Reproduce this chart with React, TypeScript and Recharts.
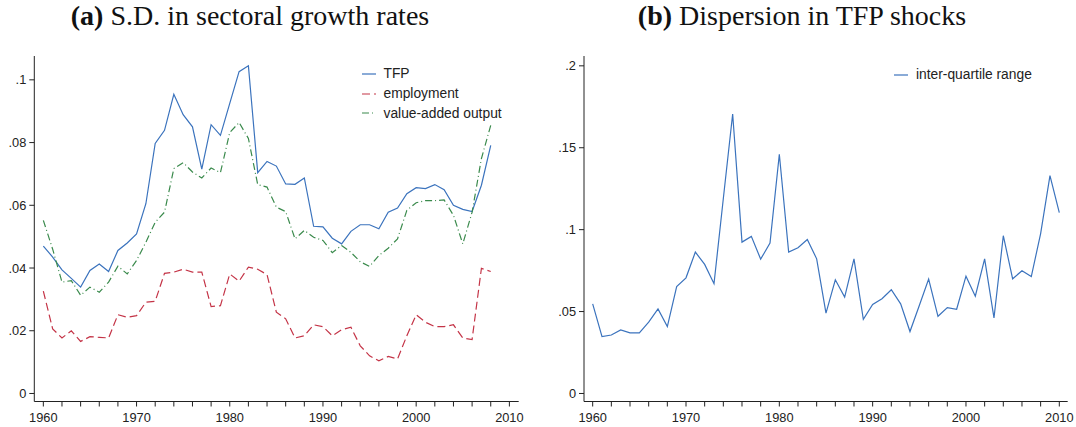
import React from "react";
import { LineChart, Line, XAxis, YAxis } from "recharts";

// panel (a): S.D. of sectoral growth rates
const YEARS_A = [
  1960, 1961, 1962, 1963, 1964, 1965, 1966, 1967, 1968, 1969,
  1970, 1971, 1972, 1973, 1974, 1975, 1976, 1977, 1978, 1979,
  1980, 1981, 1982, 1983, 1984, 1985, 1986, 1987, 1988, 1989,
  1990, 1991, 1992, 1993, 1994, 1995, 1996, 1997, 1998, 1999,
  2000, 2001, 2002, 2003, 2004, 2005, 2006, 2007, 2008,
];
const TFP = [
  0.047, 0.0435, 0.0394, 0.0367, 0.0339, 0.0392, 0.0413, 0.0389, 0.0456, 0.048,
  0.0509, 0.0605, 0.0797, 0.0839, 0.0954, 0.0889, 0.085, 0.0715, 0.0857, 0.0823,
  0.0925, 0.1026, 0.1045, 0.0704, 0.074, 0.0725, 0.0668, 0.0667, 0.0687, 0.0533,
  0.0531, 0.0495, 0.0477, 0.0517, 0.0538, 0.0538, 0.0525, 0.0578, 0.0591, 0.0637,
  0.0656, 0.0653, 0.0666, 0.065, 0.06, 0.0587, 0.058, 0.0664, 0.0791,
];
const EMPLOYMENT = [
  0.0326, 0.0206, 0.0177, 0.02, 0.0166, 0.0181, 0.0179, 0.0177, 0.0251, 0.0243,
  0.0248, 0.0291, 0.0294, 0.0383, 0.0387, 0.0396, 0.0387, 0.0387, 0.0277, 0.028,
  0.0381, 0.0358, 0.0403, 0.0396, 0.0379, 0.0259, 0.0238, 0.0177, 0.0184, 0.0219,
  0.0213, 0.0184, 0.0203, 0.0211, 0.0152, 0.012, 0.0104, 0.0118, 0.011, 0.0184,
  0.0251, 0.0227, 0.0213, 0.0213, 0.0219, 0.0177, 0.0172, 0.0399, 0.0389,
];
const VALUE_ADDED = [
  0.0552, 0.046, 0.0355, 0.036, 0.0313, 0.0339, 0.0323, 0.0355, 0.0406, 0.0381,
  0.0424, 0.0482, 0.0546, 0.0578, 0.0717, 0.0736, 0.0706, 0.0687, 0.0719, 0.0704,
  0.0832, 0.0864, 0.0813, 0.0666, 0.0658, 0.0594, 0.058, 0.0493, 0.052, 0.0498,
  0.0488, 0.0449, 0.0472, 0.045, 0.042, 0.0405, 0.044, 0.0463, 0.0493, 0.0584,
  0.0608, 0.0615, 0.0615, 0.0617, 0.0568, 0.0477, 0.0578, 0.0749, 0.0855,
];

// panel (b): inter-quartile range of TFP shocks
const YEARS_B = [
  1960, 1961, 1962, 1963, 1964, 1965, 1966, 1967, 1968, 1969,
  1970, 1971, 1972, 1973, 1974, 1975, 1976, 1977, 1978, 1979,
  1980, 1981, 1982, 1983, 1984, 1985, 1986, 1987, 1988, 1989,
  1990, 1991, 1992, 1993, 1994, 1995, 1996, 1997, 1998, 1999,
  2000, 2001, 2002, 2003, 2004, 2005, 2006, 2007, 2008, 2009, 2010,
];
const IQR = [
  0.0547, 0.0347, 0.0357, 0.0388, 0.037, 0.037, 0.0435, 0.0516, 0.0408, 0.0653,
  0.0706, 0.0863, 0.0788, 0.067, 0.119, 0.1706, 0.0924, 0.0959, 0.082, 0.0918,
  0.146, 0.0863, 0.089, 0.094, 0.0822, 0.049, 0.0694, 0.0588, 0.0822, 0.0453,
  0.0543, 0.0578, 0.0633, 0.0547, 0.0378, 0.0537, 0.0698, 0.0471, 0.0524, 0.0514,
  0.0716, 0.0594, 0.0822, 0.0461, 0.0963, 0.07, 0.0749, 0.0714, 0.0976, 0.133, 0.1104,
];

const X_TICKS = [
  1960, 1962, 1964, 1966, 1968, 1970, 1972, 1974, 1976, 1978,
  1980, 1982, 1984, 1986, 1988, 1990, 1992, 1994, 1996, 1998,
  2000, 2002, 2004, 2006, 2008, 2010,
];
const Y_TICKS_A = [0, 0.02, 0.04, 0.06, 0.08, 0.1];
const Y_TICKS_B = [0, 0.05, 0.1, 0.15, 0.2];

const BLUE = "#3b73bd";
const RED = "#c43447";
const GREEN = "#3a8a4c";
const AXIS = "#222";
const SANS = "'Liberation Sans', Arial, Helvetica, sans-serif";
const SERIF = "'Liberation Serif', 'Times New Roman', serif";

const SERIES_A = [
  { key: "tfp", name: "TFP", color: BLUE, dash: undefined as string | undefined },
  { key: "emp", name: "employment", color: RED, dash: "8 4" },
  { key: "va", name: "value-added output", color: GREEN, dash: "7 3 1 3" },
];

const dataA = YEARS_A.map((year, i) => ({
  year,
  tfp: TFP[i],
  emp: EMPLOYMENT[i],
  va: VALUE_ADDED[i],
}));
const dataB = YEARS_B.map((year, i) => ({ year, iqr: IQR[i] }));

const fmtYear = (v: number) => (v % 10 === 0 ? String(v) : "");
const fmtDec = (v: number) => (v === 0 ? "0" : String(v).replace(/^0/, ""));

const tickStyle = { fill: AXIS, fontSize: 12.8, fontFamily: SANS };

function LegendBox({ items, left, top }: { items: { name: string; color: string; dash?: string }[]; left: number; top: number }) {
  return (
    <div style={{ position: "absolute", left, top, fontFamily: SANS, fontSize: 13.8, color: "#222" }}>
      {items.map((it) => (
        <div key={it.name} style={{ display: "flex", alignItems: "center", height: 19.7 }}>
          <svg width={14} height={4} style={{ marginRight: 8 }}>
            <line x1={0} y1={2} x2={14} y2={2} stroke={it.color} strokeWidth={1.2} strokeDasharray={it.dash} />
          </svg>
          <span style={{ whiteSpace: "nowrap" }}>{it.name}</span>
        </div>
      ))}
    </div>
  );
}

function Title({ label, text, center }: { label: string; text: string; center: number }) {
  return (
    <div
      style={{
        position: "absolute",
        left: center - 250,
        top: 0,
        width: 500,
        textAlign: "center",
        fontFamily: SERIF,
        fontSize: 28,
        lineHeight: "31px",
        color: "#111",
        whiteSpace: "nowrap",
      }}
    >
      <b>{label}</b> {text}
    </div>
  );
}

export default function App() {
  return (
    <div style={{ position: "absolute", left: 0, top: 0, width: 1076, height: 427, background: "#fff" }}>
      <Title label="(a)" text="S.D. in sectoral growth rates" center={250} />
      <Title label="(b)" text="Dispersion in TFP shocks" center={802} />

      <div style={{ position: "absolute", left: 0, top: 0 }}>
        <LineChart width={540} height={427} data={dataA} margin={{ top: 56, right: 21.3, bottom: 0, left: 0 }}>
          <XAxis
            dataKey="year"
            type="number"
            domain={[1959.03, 2011]}
            allowDataOverflow
            ticks={X_TICKS}
            interval={0}
            tickFormatter={fmtYear}
            height={25.5}
            stroke={AXIS}
            tickSize={5}
            tickMargin={6}
            tick={tickStyle}
          />
          <YAxis
            type="number"
            domain={[-0.00256, 0.1076]}
            allowDataOverflow
            ticks={Y_TICKS_A}
            interval={0}
            tickFormatter={fmtDec}
            width={34.3}
            stroke={AXIS}
            tickSize={5}
            tickMargin={3}
            tick={tickStyle}
          />
          {SERIES_A.map((s) => (
            <Line
              key={s.key}
              type="linear"
              dataKey={s.key}
              name={s.name}
              stroke={s.color}
              strokeWidth={1.2}
              strokeDasharray={s.dash}
              dot={false}
              isAnimationActive={false}
            />
          ))}
        </LineChart>
      </div>
      <LegendBox items={SERIES_A} left={361.5} top={64} />

      <div style={{ position: "absolute", left: 550, top: 0 }}>
        <LineChart width={526} height={427} data={dataB} margin={{ top: 56, right: 8.3, bottom: 0, left: 0 }}>
          <XAxis
            dataKey="year"
            type="number"
            domain={[1959.07, 2010.9]}
            allowDataOverflow
            ticks={X_TICKS}
            interval={0}
            tickFormatter={fmtYear}
            height={25.5}
            stroke={AXIS}
            tickSize={5}
            tickMargin={6}
            tick={tickStyle}
          />
          <YAxis
            type="number"
            domain={[-0.0049, 0.206]}
            allowDataOverflow
            ticks={Y_TICKS_B}
            interval={0}
            tickFormatter={fmtDec}
            width={34}
            stroke={AXIS}
            tickSize={5}
            tickMargin={3}
            tick={tickStyle}
          />
          <Line
            type="linear"
            dataKey="iqr"
            name="inter-quartile range"
            stroke={BLUE}
            strokeWidth={1.2}
            dot={false}
            isAnimationActive={false}
          />
        </LineChart>
      </div>
      <LegendBox items={[{ name: "inter-quartile range", color: BLUE }]} left={894} top={65} />
    </div>
  );
}
